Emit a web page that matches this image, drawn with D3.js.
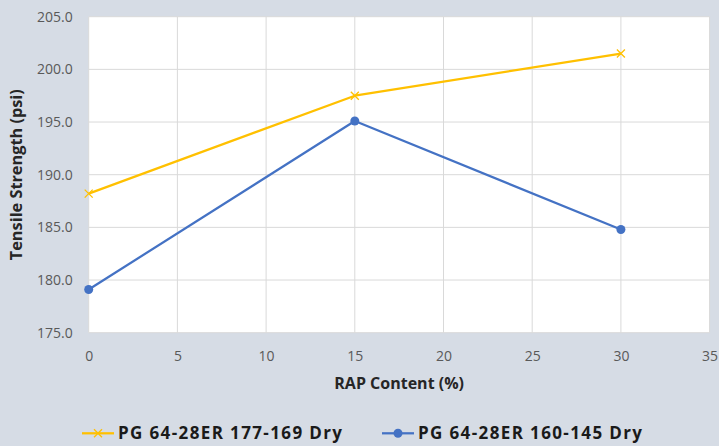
<!DOCTYPE html>
<html>
<head>
<meta charset="utf-8">
<script src="https://cdnjs.cloudflare.com/ajax/libs/d3/7.8.5/d3.min.js"></script>
<style>
  html, body { margin: 0; padding: 0; background: #d6dce5; }
  svg { display: block; font-family: "Open Sans", "Liberation Sans", sans-serif; }
</style>
</head>
<body>
<svg id="chart" width="719" height="446"></svg>
<script>
// RAP content (%) on the x axis
const rapContent = [0, 15, 30];
// Tensile strength (psi) for each binder / temperature combination
const seriesNames = ["PG 64-28ER 177-169 Dry", "PG 64-28ER 160-145 Dry"];
const strength177 = [188.2, 197.5, 201.5];
const strength160 = [179.1, 195.1, 184.8];
const seriesColors = ["#ffc000", "#4472c4"];
const xTicks = [0, 5, 10, 15, 20, 25, 30, 35];
const yTicks = [175, 180, 185, 190, 195, 200, 205];

const svg = d3.select("#chart");
const W = 719, H = 446;
const plot = { left: 88.7, right: 709.6, top: 16.7, bottom: 332.7 };

svg.append("rect").attr("width", W).attr("height", H).attr("fill", "#d6dce5");
svg.append("rect")
  .attr("x", plot.left).attr("y", plot.top)
  .attr("width", plot.right - plot.left).attr("height", plot.bottom - plot.top)
  .attr("fill", "#ffffff");

const x = d3.scaleLinear().domain([0, 35]).range([plot.left, plot.right]);
const y = d3.scaleLinear().domain([175, 205]).range([plot.bottom, plot.top]);

// Gridlines
const grid = svg.append("g").attr("stroke", "#d9d9d9").attr("stroke-width", 1);
grid.selectAll("line.v").data(xTicks).join("line")
  .attr("x1", d => x(d)).attr("x2", d => x(d))
  .attr("y1", plot.top).attr("y2", plot.bottom);
grid.selectAll("line.h").data(yTicks).join("line")
  .attr("x1", plot.left).attr("x2", plot.right)
  .attr("y1", d => y(d)).attr("y2", d => y(d));

// Axes (labels only, no domain or tick marks)
const xAxis = svg.append("g")
  .attr("transform", `translate(0,${plot.bottom})`)
  .call(d3.axisBottom(x).tickValues(xTicks).tickSize(0).tickPadding(18).tickFormat(d3.format("d")));
const yAxis = svg.append("g")
  .attr("transform", `translate(${plot.left},0)`)
  .call(d3.axisLeft(y).tickValues(yTicks).tickSize(0).tickPadding(16).tickFormat(d3.format(".1f")));
[xAxis, yAxis].forEach(a => {
  a.select(".domain").remove();
  a.selectAll("text").attr("fill", "#595959").style("font-size", "14px")
    .style("font-family", "'Open Sans', sans-serif");
});

// Axis titles
svg.append("text")
  .attr("x", (plot.left + plot.right) / 2).attr("y", 388.5)
  .attr("text-anchor", "middle").attr("fill", "#262626")
  .style("font-size", "16px").style("font-weight", "bold")
  .text("RAP Content (%)");
svg.append("text")
  .attr("transform", `translate(22,${(plot.top + plot.bottom) / 2}) rotate(-90)`)
  .attr("text-anchor", "middle").attr("fill", "#262626")
  .style("font-size", "16.3px").style("font-weight", "bold")
  .text("Tensile Strength (psi)");

// Series
const series = [strength177, strength160].map((vals, i) => ({
  name: seriesNames[i], color: seriesColors[i],
  points: rapContent.map((r, j) => [r, vals[j]])
}));
const line = d3.line().x(d => x(d[0])).y(d => y(d[1]));

function drawMarker(g, i, cx, cy) {
  if (i === 0) {
    const s = 4;
    g.append("path")
      .attr("d", `M${cx - s},${cy - s}L${cx + s},${cy + s}M${cx - s},${cy + s}L${cx + s},${cy - s}`)
      .attr("stroke", seriesColors[0]).attr("stroke-width", 1.3).attr("fill", "none");
  } else {
    g.append("circle").attr("cx", cx).attr("cy", cy).attr("r", 4.5)
      .attr("fill", seriesColors[1]);
  }
}

series.forEach((s, i) => {
  const g = svg.append("g");
  g.append("path").datum(s.points).attr("d", line)
    .attr("fill", "none").attr("stroke", s.color).attr("stroke-width", 2.25)
    .attr("stroke-linejoin", "round");
  s.points.forEach(p => drawMarker(g, i, x(p[0]), y(p[1])));
});

// Legend
const legendX = [82, 382];
series.forEach((s, i) => {
  const g = svg.append("g").attr("transform", `translate(${legendX[i]},433.3)`);
  g.append("line").attr("x1", 0).attr("x2", 32).attr("y1", 0).attr("y2", 0)
    .attr("stroke", s.color).attr("stroke-width", 2.25);
  drawMarker(g, i, 16, 0);
  g.append("text").attr("x", 36).attr("y", 5.8)
    .attr("fill", "#1a1a1a").style("font-size", "17px").style("font-weight", "bold")
    .attr("textLength", 224).attr("lengthAdjust", "spacing")
    .text(s.name);
});
</script>
</body>
</html>
